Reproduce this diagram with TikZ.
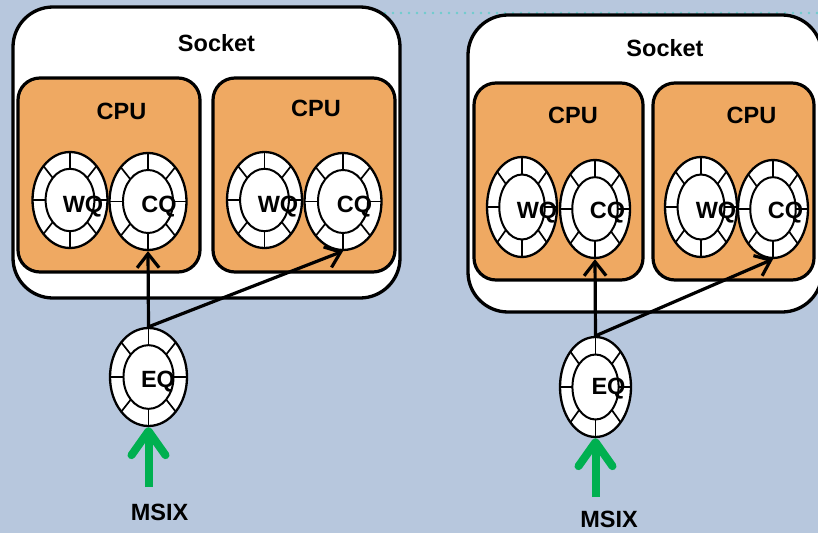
\documentclass[tikz,border=0pt]{standalone}
\usepackage{fontspec}
\setmainfont{Liberation Sans}
\usetikzlibrary{shapes.geometric,arrows.meta,calc}
\definecolor{bgblue}{RGB}{183,199,221}
\definecolor{cpuorange}{RGB}{239,169,98}
\definecolor{msixgreen}{RGB}{0,176,80}
\definecolor{dotteal}{RGB}{110,205,205}
\tikzset{
  socketbox/.style={rectangle, draw=black, fill=white, line width=3.3pt, rounded corners=40pt, inner sep=0pt},
  cpubox/.style={rectangle, draw=black, fill=cpuorange, line width=3.2pt, rounded corners=22pt, inner sep=0pt},
  ringout/.style={ellipse, draw=black, fill=white, line width=2.3pt, inner sep=0pt},
  ringin/.style={draw=black, line width=2pt},
  spoke/.style={draw=black, line width=1.7pt},
  lbl/.style={font=\fontsize{23.5}{26}\selectfont\bfseries, anchor=base, inner sep=0pt},
  conn/.style={draw=black, line width=3.2pt, -{Straight Barb[length=14pt,width=22pt]}},
  msixarrow/.style={draw=msixgreen, line width=8pt, -{Straight Barb[length=24pt,width=34pt,round]}},
  dotline/.style={draw=dotteal, line width=2.8pt, line cap=round, dash pattern=on 0pt off 8pt},
}
\newcommand\qring[5]{%
  \node[ringout, minimum width=#4*2pt, minimum height=#5*2pt] (#1) at (#2,#3) {};
  \draw[ringin] (#1.center) ellipse [x radius=#4*0.65pt, y radius=#5*0.65pt];
  \foreach \a in {0,45,...,315}{%
    \draw[spoke] ($(#1.center)+(\a:#4*0.65pt and #5*0.65pt)$) -- ($(#1.center)+(\a:#4pt and #5pt)$);}%
}
\begin{document}
\begin{tikzpicture}[x=1pt,y=-1pt]
\useasboundingbox (0,0) rectangle (818,532);
\fill[bgblue] (-2,-2) rectangle (820,534);
\coordinate (dotA) at (33,13);
\coordinate (dotB) at (818,13);
\draw[dotline] (dotA) -- (dotB);

% sockets
\node[socketbox, minimum width=387pt, minimum height=291pt] (sock1) at (206.5,152.5) {};
\node[socketbox, minimum width=354pt, minimum height=297pt] (sock2) at (645,163.5) {};
\node[lbl] (sock1l) at (216.5,52) {Socket};
\node[lbl] (sock2l) at (665,57) {Socket};

% CPUs
\node[cpubox, minimum width=182pt, minimum height=194pt] (cpu1) at (109,175) {};
\node[cpubox, minimum width=182pt, minimum height=194pt] (cpu2) at (304,175) {};
\node[cpubox, minimum width=169pt, minimum height=197pt] (cpu3) at (558.5,181.5) {};
\node[cpubox, minimum width=161pt, minimum height=197pt] (cpu4) at (733.5,181.5) {};
\node[lbl] (cpu1l) at (121.5,119) {CPU};
\node[lbl] (cpu2l) at (316,117) {CPU};
\node[lbl] (cpu3l) at (573,124) {CPU};
\node[lbl] (cpu4l) at (751.5,124) {CPU};

% rings
\qring{wq1}{70}{200}{37.5}{48}
\qring{cq1}{148}{201.5}{38.5}{48.5}
\qring{wq2}{264.5}{200}{37.5}{48}
\qring{cq2}{343}{201.5}{38.5}{48.5}
\qring{wq3}{522}{207}{35}{50}
\qring{cq3}{595}{209}{35}{49}
\qring{wq4}{701}{207}{36}{50}
\qring{cq4}{773}{209}{35}{49}
\qring{eq1}{148.5}{377}{38.5}{49}
\qring{eq2}{595.5}{387}{35.5}{50}

\node[lbl] (wq1l) at (83,212) {WQ};
\node[lbl] (cq1l) at (159,212) {CQ};
\node[lbl] (wq2l) at (278,212) {WQ};
\node[lbl] (cq2l) at (354.5,212) {CQ};
\node[lbl] (wq3l) at (537,218) {WQ};
\node[lbl] (cq3l) at (607.5,218) {CQ};
\node[lbl] (wq4l) at (716,218) {WQ};
\node[lbl] (cq4l) at (785.5,218) {CQ};
\node[lbl] (eq1l) at (158,387) {EQ};
\node[lbl] (eq2l) at (608.5,394) {EQ};

% connectors
\draw[conn] (eq1.north) -- (cq1.south);
\draw[conn] (eq1.north) -- (cq2.south);
\draw[conn] (eq2.north) -- (cq3.south);
\draw[conn] (eq2.north) -- (cq4.south);

% MSIX
\coordinate (m1) at (148.5,487);
\coordinate (m2) at (595.5,497);
\draw[msixarrow] (m1) -- (eq1.south);
\draw[msixarrow] (m2) -- (eq2.south);
\node[lbl] (msix1) at (159.5,520) {MSIX};
\node[lbl] (msix2) at (609,527) {MSIX};
\end{tikzpicture}
\end{document}
